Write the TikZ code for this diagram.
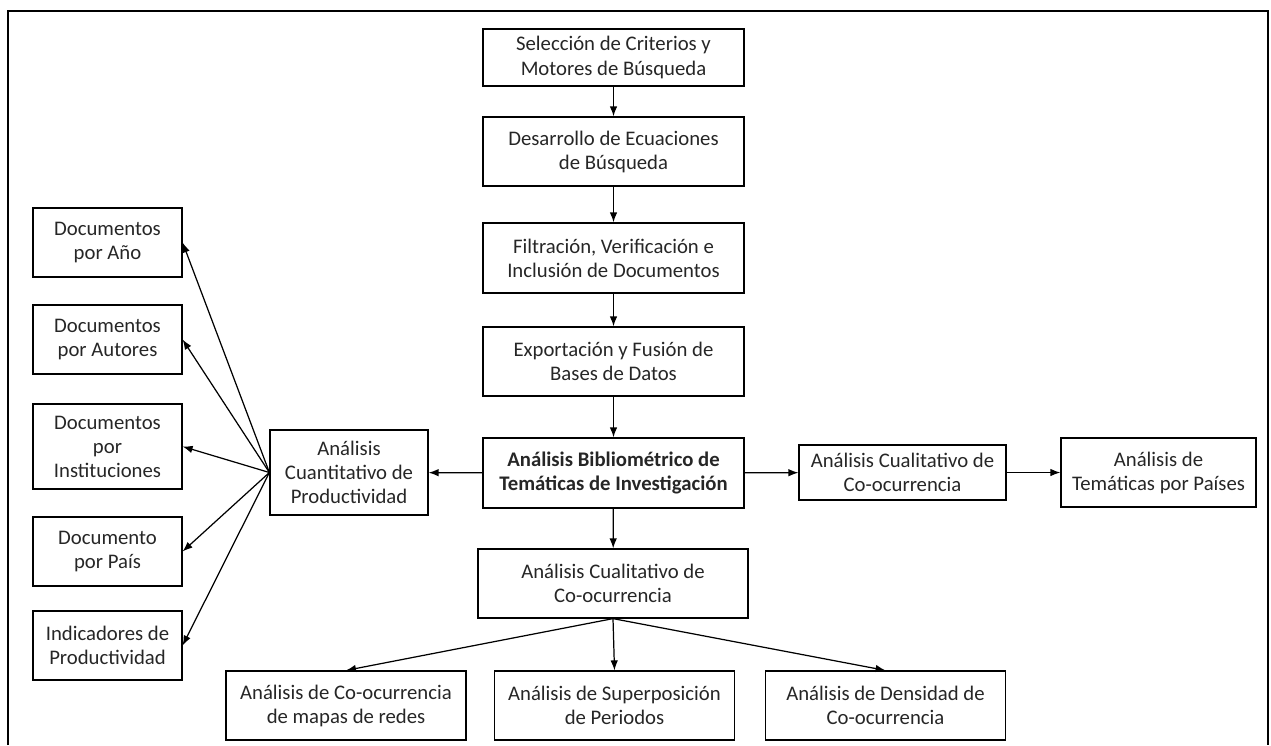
\documentclass[tikz,border=0pt]{standalone}
\usepackage{fontspec}
\setmainfont{Carlito}
\usetikzlibrary{arrows.meta, positioning}
\definecolor{ink}{HTML}{262626}

\begin{document}
\begin{tikzpicture}[x=0.02cm, y=-0.02cm,
      box/.style={draw, line width=0.7pt, align=center, inner sep=2pt, text=ink,
                  minimum height=1.38cm, font=\fontsize{11.8}{13.7}\selectfont},
      col/.style={box, minimum width=5.22cm},
      side/.style={box, minimum width=2.98cm},
      low/.style={box, minimum width=4.8cm},
      arr/.style={-{Latex[length=2mm, width=1.5mm]}, line width=0.7pt}]
    \useasboundingbox (0,0) rectangle (1271,745);
    \draw[line width=1.6pt] (8,745) -- (8,11) -- (1268,11) -- (1268,745);
    % central column
    \node[col, minimum height=1.14cm] (sel) at (613.5,57.5) {Selección de Criterios y\\Motores de Búsqueda};
    \node[col] (des) at (613.5,151.5) {Desarrollo de Ecuaciones\\de Búsqueda};
    \node[col, minimum height=1.4cm] (fil) at (613.5,258) {Filtración, Verificación e\\Inclusión de Documentos};
    \node[col] (exp) at (613.5,361.5) {Exportación y Fusión de\\Bases de Datos};
    \node[col, minimum height=1.4cm] (bib) at (613.5,473) {\textbf{Análisis Bibliométrico de}\\\textbf{Temáticas de Investigación}};
    \node[box, minimum width=5.4cm] (cuali) at (613,583.5) {Análisis Cualitativo de\\Co-ocurrencia};
    % bottom row
    \node[low] (redes) at (346,705.5) {Análisis de Co-ocurrencia\\de mapas de redes};
    \node[low] (super) at (614.5,705.5) {Análisis de Superposición\\de Periodos};
    \node[low] (dens) at (885.5,705.5) {Análisis de Densidad de\\Co-ocurrencia};
    % right side
    \node[box, minimum width=4.14cm, minimum height=1.1cm] (cualr) at (902.5,472.5) {Análisis Cualitativo de\\Co-ocurrencia};
    \node[box, minimum width=3.9cm] (paises) at (1158.5,472.5) {Análisis de\\Temáticas por Países};
    % left side
    \node[box, minimum width=3.16cm, minimum height=1.7cm] (cuant) at (349,472.5) {Análisis\\Cuantitativo de\\Productividad};
    \node[side] (anio) at (107.5,242.5) {Documentos\\por Año};
    \node[side] (autores) at (107.5,339.5) {Documentos\\por Autores};
    \node[side, minimum height=1.7cm] (inst) at (107.5,446.5) {Documentos\\por\\Instituciones};
    \node[side] (docpais) at (107.5,551.5) {Documento\\por País};
    \node[side] (indic) at (107.5,645.5) {Indicadores de\\Productividad};

    \draw[arr] (sel) -- (des);
    \draw[arr] (des) -- (fil);
    \draw[arr] (fil) -- (exp);
    \draw[arr] (exp) -- (bib);
    \draw[arr] (bib) -- (cuali);
    \draw[arr] (bib) -- (cuant);
    \draw[arr] (bib) -- (cualr);
    \draw[arr] (cualr) -- (paises);
    \foreach \n in {redes, super, dens}
      \draw[arr] (cuali.south) -- (\n.north);
    \foreach \n in {anio, autores, inst, docpais, indic}
      \draw[arr] (cuant.west) -- (\n.east);
\end{tikzpicture}
\end{document}
